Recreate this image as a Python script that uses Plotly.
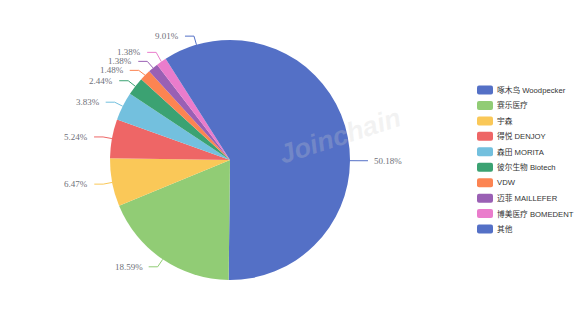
import math
import plotly.graph_objects as go

# ---- data ----
categories = ["啄木鸟 Woodpecker", "赛乐医疗", "宇森", "得悦 DENJOY", "森田 MORITA",
              "彼尔生物 Biotech", "VDW", "迈菲 MAILLEFER", "博美医疗 BOMEDENT", "其他"]
values = [50.18, 18.59, 6.47, 5.24, 3.83, 2.44, 1.48, 1.38, 1.38, 9.01]
value_labels = ["50.18%", "18.59%", "6.47%", "5.24%", "3.83%", "2.44%", "1.48%", "1.38%", "1.38%", "9.01%"]
colors = ["#5470c6", "#91cc75", "#fac858", "#ee6666", "#73c0de",
          "#3ba272", "#fc8452", "#9a60b4", "#ea7ccc", "#5470c6"]

W, H = 576, 320
CX, CY, R = 230, 160, 120
LEN1, LEN2, GAP = 9, 9, 4
MIN_SPACING = 9.0


def px(x):
    return x / W


def py(y):
    return 1 - y / H


fig = go.Figure()
fig.add_trace(go.Pie(
    labels=categories, values=values, sort=False, direction="clockwise", rotation=0,
    marker=dict(colors=colors, line=dict(width=0)),
    textinfo="none", hoverinfo="label+percent", showlegend=False,
    domain=dict(x=[px(CX - R), px(CX + R)], y=[py(CY + R), py(CY - R)]),
))

# ---- label layout computed from the data ----
total = sum(values)
cum = 0.0
items = []
for i, v in enumerate(values):
    mid = (cum + v / 2) / total * 2 * math.pi
    cum += v
    sx, sy = math.sin(mid), -math.cos(mid)
    p0 = (CX + R * sx, CY + R * sy)
    p1 = (CX + (R + LEN1) * sx, CY + (R + LEN1) * sy)
    side = 1 if sx >= 0 else -1
    items.append(dict(i=i, p0=p0, p1=p1, side=side, y=p1[1]))

for side in (1, -1):
    grp = sorted([it for it in items if it["side"] == side], key=lambda d: d["y"])
    for _ in range(200):
        moved = False
        for a, b in zip(grp, grp[1:]):
            d = b["y"] - a["y"]
            if d < MIN_SPACING - 1e-6:
                delta = (MIN_SPACING - d) / 2
                a["y"] -= delta
                b["y"] += delta
                moved = True
        if not moved:
            break

shapes = []
annotations = []
for it in items:
    i = it["i"]
    x0, y0 = it["p0"]
    x1 = it["p1"][0]
    y1 = it["y"]
    x2 = x1 + it["side"] * LEN2
    path = f"M {px(x0)},{py(y0)} L {px(x1)},{py(y1)} L {px(x2)},{py(y1)}"
    shapes.append(dict(type="path", xref="paper", yref="paper", path=path,
                       line=dict(color=colors[i], width=1)))
    annotations.append(dict(
        xref="paper", yref="paper", x=px(x2 + it["side"] * GAP), y=py(y1),
        text=value_labels[i], showarrow=False,
        xanchor="left" if it["side"] > 0 else "right", yanchor="middle",
        font=dict(family="Liberation Serif, Times New Roman, serif", size=9, color="#6e7079"),
    ))

# ---- legend (drawn manually to mimic rounded item icons) ----
LEG_X, LEG_Y0, LEG_DY = 477, 90, 15.45
IW, IH, RR = 16, 9, 2
for i, name in enumerate(categories):
    yc = LEG_Y0 + i * LEG_DY
    xa, xb = LEG_X, LEG_X + IW
    ya, yb = yc - IH / 2, yc + IH / 2
    path = (f"M {px(xa + RR)},{py(ya)} L {px(xb - RR)},{py(ya)} "
            f"Q {px(xb)},{py(ya)} {px(xb)},{py(ya + RR)} L {px(xb)},{py(yb - RR)} "
            f"Q {px(xb)},{py(yb)} {px(xb - RR)},{py(yb)} L {px(xa + RR)},{py(yb)} "
            f"Q {px(xa)},{py(yb)} {px(xa)},{py(yb - RR)} L {px(xa)},{py(ya + RR)} "
            f"Q {px(xa)},{py(ya)} {px(xa + RR)},{py(ya)} Z")
    shapes.append(dict(type="path", xref="paper", yref="paper", path=path,
                       fillcolor=colors[i], line=dict(width=0)))
    annotations.append(dict(
        xref="paper", yref="paper", x=px(xb + 2), y=py(yc), text=name, showarrow=False,
        xanchor="left", yanchor="middle",
        font=dict(family="Liberation Sans, Arial, Noto Sans CJK SC, sans-serif", size=7.7, color="#333333"),
    ))

# ---- watermark ----
annotations.append(dict(
    xref="paper", yref="paper", x=px(340), y=py(136), text="<b><i>Joinchain</i></b>",
    showarrow=False, textangle=-18, xanchor="center", yanchor="middle",
    font=dict(family="Liberation Sans, Arial, sans-serif", size=27, color="rgba(205,205,205,0.25)"),
))

fig.update_layout(
    width=W, height=H, margin=dict(l=0, r=0, t=0, b=0),
    paper_bgcolor="white", plot_bgcolor="white",
    shapes=shapes, annotations=annotations, showlegend=False,
)

fig.write_html("out.html")
